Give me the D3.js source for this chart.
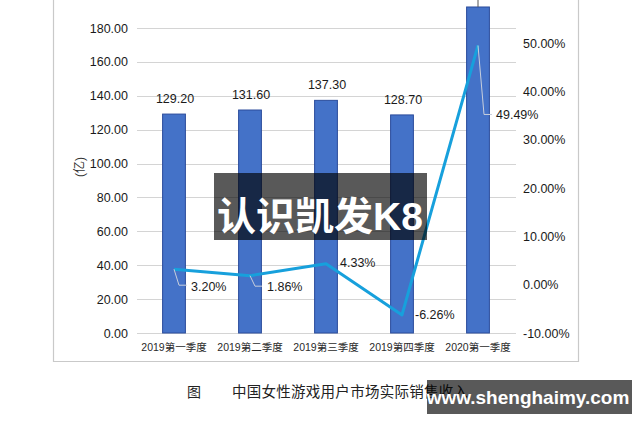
<!DOCTYPE html>
<html>
<head>
<meta charset="utf-8">
<script src="https://cdn.jsdelivr.net/npm/d3@7/dist/d3.min.js"></script>
<style>
  html, body { margin: 0; padding: 0; background: #fff; }
  svg { display: block; }
  text { font-family: "Liberation Sans", Arial, "Noto Sans CJK SC", sans-serif; }
</style>
</head>
<body>
<svg id="chart" width="640" height="427"></svg>
<script>
// ---- data ----
const categories = ["2019第一季度", "2019第二季度", "2019第三季度", "2019第四季度", "2020第一季度"];
const revenue = [129.20, 131.60, 137.30, 128.70, 192.40];   // 亿
const growth = [0.0320, 0.0186, 0.0433, -0.0626, 0.4949];   // 环比
const leftTicks = [0, 20, 40, 60, 80, 100, 120, 140, 160, 180, 200];
const rightTicks = [-0.10, 0, 0.10, 0.20, 0.30, 0.40, 0.50, 0.60];
const yTitle = "(亿)";
const captionLabel = "图";
const captionText = "中国女性游戏用户市场实际销售收入";
const watermark1 = "认识凯发K8";
const watermark2 = "www.shenghaimy.com";

// ---- layout (label placement for growth labels, px relative to point) ----
const growthLabelLayout = [
  { dx: 17, dy: 17.5, leader: [[0, 0], [5, 16], [13, 16]] },
  { dx: 17, dy: 11,   leader: [[0, 0], [5, 10.5], [12, 10.5]] },
  { dx: 14, dy: -1,   leader: null },
  { dx: 13, dy: 0,    leader: null },
  { dx: 18, dy: 69,   leader: [[0, 0], [6, 69], [14, 69]] }
];

const svg = d3.select("#chart");

const x = d3.scaleBand().domain(categories).range([136, 516]).paddingInner(0.7).paddingOuter(0.35);
const yL = d3.scaleLinear().domain([0, 180]).range([333, 28]);
const yR = d3.scaleLinear().domain([-0.10, 0.50]).range([333, 43]);

// frame
svg.append("path")
  .attr("d", "M53.5,-2 L53.5,361.5 L578.5,361.5 L578.5,-2")
  .attr("fill", "none").attr("stroke", "#c9c9c9").attr("stroke-width", 1.2);

// gridlines
svg.append("g").selectAll("line").data(leftTicks).join("line")
  .attr("x1", 137).attr("x2", 516)
  .attr("y1", d => Math.round(yL(d)) + 0.5).attr("y2", d => Math.round(yL(d)) + 0.5)
  .attr("stroke", "#d4d4d4").attr("stroke-width", 1);

// left axis
const gL = svg.append("g").attr("transform", "translate(137,0)")
  .call(d3.axisLeft(yL).tickValues(leftTicks).tickSize(0).tickPadding(9).tickFormat(d => d.toFixed(2)));
gL.select(".domain").remove();
gL.selectAll("text").attr("font-size", 12.5).attr("fill", "#1a1a1a")
  .attr("font-family", "'Liberation Sans', Arial, sans-serif");

// right axis
const gR = svg.append("g").attr("transform", "translate(516,0)")
  .call(d3.axisRight(yR).tickValues(rightTicks).tickSize(0).tickPadding(7)
    .tickFormat(d => d3.format(".2%")(d).replace("−", "-")));
gR.select(".domain").remove();
gR.selectAll("text").attr("font-size", 12.5).attr("fill", "#1a1a1a")
  .attr("font-family", "'Liberation Sans', Arial, sans-serif");

// y title
svg.append("text").attr("transform", "translate(84,167) rotate(-90)")
  .attr("text-anchor", "middle").attr("font-size", 12).attr("fill", "#333")
  .attr("font-family", "'Noto Sans CJK SC', sans-serif")
  .text(yTitle);

// x category labels
svg.append("g").selectAll("text").data(categories).join("text")
  .attr("x", d => x(d) + x.bandwidth() / 2).attr("y", 351)
  .attr("text-anchor", "middle").attr("font-size", 10.5).attr("fill", "#2a2a2a")
  .attr("font-family", "'Liberation Sans', 'Noto Sans CJK SC', sans-serif")
  .text(d => d);

// bars
svg.append("g").selectAll("rect").data(categories).join("rect")
  .attr("x", d => x(d)).attr("width", x.bandwidth())
  .attr("y", (d, i) => yL(revenue[i]))
  .attr("height", (d, i) => yL(0) - yL(revenue[i]))
  .attr("fill", "#4472c8").attr("stroke", "#2b4c9c").attr("stroke-width", 1);

// bar labels
svg.append("g").selectAll("text").data(categories).join("text")
  .attr("x", d => x(d) + x.bandwidth() / 2 + 1)
  .attr("y", (d, i) => yL(revenue[i]) - 11)
  .attr("text-anchor", "middle").attr("font-size", 12.5).attr("fill", "#1a1a1a")
  .text((d, i) => revenue[i].toFixed(2));
// leader for last bar label (label above the top edge)
svg.append("line")
  .attr("x1", x(categories[4]) + x.bandwidth() / 2).attr("x2", x(categories[4]) + x.bandwidth() / 2)
  .attr("y1", yL(revenue[4])).attr("y2", -2)
  .attr("stroke", "#555").attr("stroke-width", 1);

// growth line
const pts = categories.map((c, i) => [x(c) + x.bandwidth() / 2, yR(growth[i])]);
svg.append("path").datum(pts)
  .attr("d", d3.line())
  .attr("fill", "none").attr("stroke", "#17a0dc").attr("stroke-width", 3)
  .attr("stroke-linejoin", "round");

// leaders
growthLabelLayout.forEach((L, i) => {
  if (!L.leader) return;
  svg.append("path")
    .attr("d", d3.line()(L.leader.map(p => [pts[i][0] + p[0], pts[i][1] + p[1]])))
    .attr("fill", "none").attr("stroke", "#c8cfdc").attr("stroke-width", 1);
});

// growth labels
svg.append("g").selectAll("text").data(growth).join("text")
  .attr("x", (d, i) => pts[i][0] + growthLabelLayout[i].dx)
  .attr("y", (d, i) => pts[i][1] + growthLabelLayout[i].dy + 4.5)
  .attr("font-size", 12.5).attr("fill", "#1a1a1a")
  .text(d => d3.format(".2%")(d).replace("−", "-"));

// caption
svg.append("text").attr("x", 187).attr("y", 397).attr("font-size", 14)
  .attr("fill", "#222").attr("font-family", "'Noto Sans CJK SC', sans-serif").text(captionLabel);
svg.append("text").attr("x", 232).attr("y", 397).attr("font-size", 14.5)
  .attr("fill", "#222").attr("font-family", "'Noto Sans CJK SC', sans-serif")
  .attr("textLength", 236).text(captionText);

// watermarks
svg.append("rect").attr("x", 214).attr("y", 173).attr("width", 213).attr("height", 67)
  .attr("fill", "rgba(0,0,0,0.65)");
svg.append("text").attr("x", 320).attr("y", 230).attr("text-anchor", "middle")
  .attr("font-size", 39).attr("font-weight", "bold").attr("fill", "#fff")
  .attr("font-family", "'Noto Sans CJK SC', sans-serif").text(watermark1);

svg.append("rect").attr("x", 427).attr("y", 380).attr("width", 205).attr("height", 34)
  .attr("fill", "rgba(0,0,0,0.65)");
svg.append("text").attr("x", 528).attr("y", 404).attr("text-anchor", "middle")
  .attr("font-size", 19).attr("font-weight", "bold").attr("fill", "#fff")
  .attr("font-family", "'Open Sans', 'DejaVu Sans', sans-serif").text(watermark2);
</script>
</body>
</html>
